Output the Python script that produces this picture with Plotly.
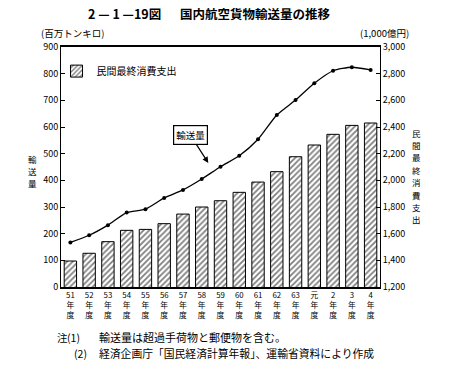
import plotly.graph_objects as go

categories = ["51", "52", "53", "54", "55", "56", "57", "58", "59", "60",
              "61", "62", "63", "元", "2", "3", "4"]
tick_labels = [c + "<br>年<br>度" for c in categories]
cargo = [167, 194, 232, 279, 292, 334, 364, 405, 451, 492,
         554, 645, 701, 764, 811, 824, 814]          # 百万トンキロ
consumption = [1395, 1453, 1540, 1625, 1632, 1675, 1747, 1800, 1847, 1910,
               1987, 2065, 2177, 2265, 2345, 2412, 2430]  # 1,000億円
left_title = "輸送量"
right_title = "民間最終消費支出"

FONT = "Noto Sans CJK JP"

W, H = 453, 368
PL, PR, PT, PB = 61, 380, 47, 287  # plot box in page pixels

fig = go.Figure()
fig.add_trace(go.Bar(
    x=categories, y=consumption, yaxis="y2", name=right_title,
    marker=dict(color="white", line=dict(color="black", width=1),
                pattern=dict(shape="/", fgcolor="black", bgcolor="white",
                             size=4, solidity=0.45)),
    width=0.66, showlegend=True,
))
fig.add_trace(go.Scatter(
    x=categories, y=cargo, yaxis="y", name=left_title, mode="lines+markers",
    line=dict(color="black", width=1.3, shape="spline", smoothing=0.6),
    marker=dict(color="black", size=4), showlegend=False,
))

fig.update_layout(
    width=W, height=H,
    margin=dict(l=PL, r=W - PR, t=PT, b=H - PB, pad=0, autoexpand=False),
    paper_bgcolor="white", plot_bgcolor="white",
    font=dict(family=FONT, size=10, color="black"),
    separators=".,",
    xaxis=dict(type="category", tickmode="array", tickvals=categories,
               ticktext=tick_labels, showline=True, linecolor="black",
               linewidth=1.5, mirror=True, ticks="", tickfont=dict(size=7.8),
               range=[-0.5, 16.5]),
    yaxis=dict(range=[0, 900], dtick=100, showgrid=False, showline=True,
               linecolor="black", linewidth=1, ticks="inside", ticklen=4,
               tickcolor="black", tickfont=dict(size=9), zeroline=False),
    yaxis2=dict(range=[1200, 3000], dtick=200, overlaying="y", side="right",
                showgrid=False, showline=True, linecolor="black", linewidth=1,
                ticks="inside", ticklen=4, tickcolor="black",
                tickformat=",d", tickfont=dict(size=9), zeroline=False),
    bargap=0.34,
    legend=dict(x=-0.014, y=0.96, xanchor="left", yanchor="top",
                bgcolor="rgba(0,0,0,0)", font=dict(size=10)),
)

anns = [
    dict(text="<b>2 — 1 —19図</b>", x=86, y=13, xanchor="left", font=dict(size=12.5)),
    dict(text="<b>国内航空貨物輸送量の推移</b>", x=178, y=13, xanchor="left",
         font=dict(size=12.5)),
    dict(text="(百万トンキロ)", x=72, y=33, font=dict(size=9.5)),
    dict(text="(1,000億円)", x=384, y=33, font=dict(size=9.5)),
    dict(text="注", x=55, y=337, xanchor="left", font=dict(size=10.5)),
    dict(text="(1)", x=65, y=337, xanchor="left", font=dict(size=10.5)),
    dict(text="輸送量は超過手荷物と郵便物を含む。", x=97, y=337,
         xanchor="left", font=dict(size=11)),
    dict(text="(2)", x=72, y=353, xanchor="left", font=dict(size=10.5)),
    dict(text="経済企画庁「国民経済計算年報」、運輸省資料により作成", x=97, y=353,
         xanchor="left", font=dict(size=10.8)),
]

# vertical (stacked) axis titles, one character per row
STEP = 12.4
for title, cx, cy in [(left_title, 32, 171), (right_title, 416, 176)]:
    n = len(title)
    for i, ch in enumerate(title):
        anns.append(dict(text=ch, x=cx, y=cy + (i - (n - 1) / 2) * STEP,
                         font=dict(size=8.5)))

for a in anns:
    fig.add_annotation(
        text=a["text"], xref="paper", yref="paper",
        x=(a["x"] - PL) / (PR - PL), y=1 - (a["y"] - PT) / (PB - PT),
        xanchor=a.get("xanchor", "center"), yanchor="middle",
        showarrow=False, font=a["font"],
    )

fig.add_annotation(
    text=left_title, x=7.35, y=465, xref="x", yref="y",
    showarrow=True, arrowhead=2, arrowsize=1, arrowwidth=1.2, arrowcolor="black",
    ax=-18, ay=-28, bordercolor="black", borderwidth=1.2, borderpad=2,
    bgcolor="white", font=dict(size=9.5),
)

# remove the browser's default 8px body margin so the figure sits at (0, 0)
fig.write_html("out.html", config={"displayModeBar": False},
               post_script="document.body.style.margin='0';")
